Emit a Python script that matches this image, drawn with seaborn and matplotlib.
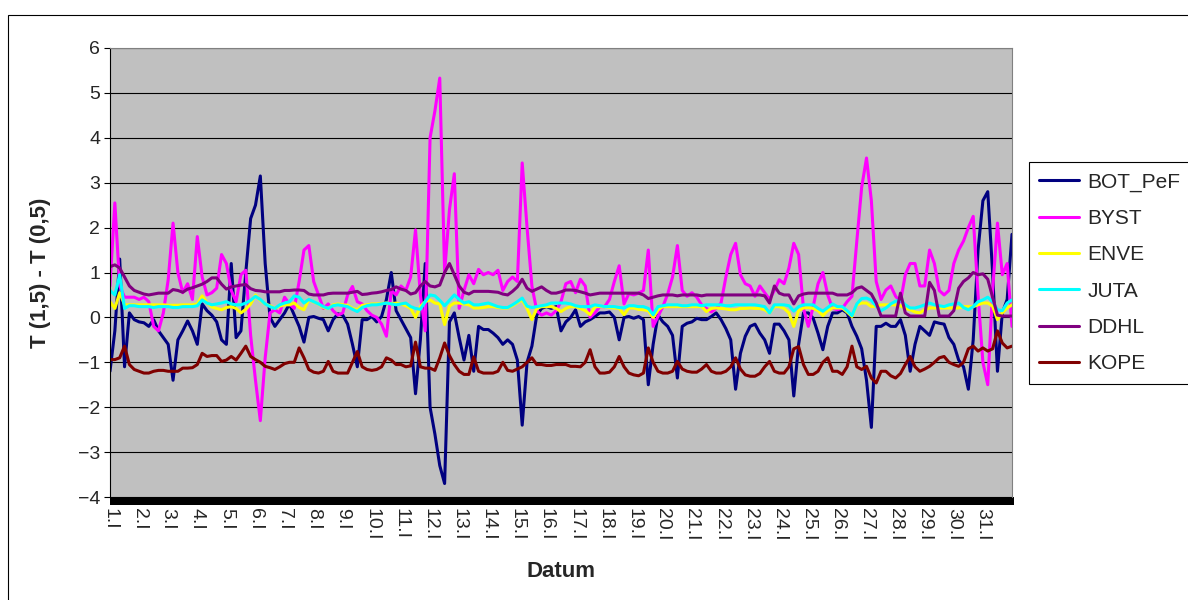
import matplotlib
matplotlib.use("Agg")
import matplotlib.pyplot as plt
from matplotlib.lines import Line2D
from matplotlib.patches import Rectangle
import pandas as pd
import seaborn as sns

# Temperature difference T(1,5) - T(0,5), sampled every 4 hours through January.
# Each row holds one day (00, 04, 08, 12, 16, 20 h); the last value closes 31.I.
step_hours = 4

bot_pef = [
    -1.20, -0.30, 1.30, -1.10, 0.10, -0.05,
    -0.10, -0.12, -0.20, -0.05, -0.30, -0.45,
    -0.60, -1.40, -0.50, -0.30, -0.08, -0.30,
    -0.60, 0.30, 0.15, 0.05, -0.10, -0.50,
    -0.60, 1.20, -0.45, -0.30, 1.00, 2.20,
    2.50, 3.15, 1.20, 0.00, -0.20, -0.05,
    0.10, 0.30, 0.05, -0.20, -0.55, 0.00,
    0.02, -0.02, -0.05, -0.30, -0.05, 0.08,
    0.05, -0.15, -0.60, -1.10, -0.05, -0.05,
    0.02, -0.10, 0.02, 0.40, 1.00, 0.15,
    -0.05, -0.25, -0.45, -1.70, -0.50, 1.20,
    -2.00, -2.60, -3.30, -3.70, -0.10, 0.10,
    -0.45, -0.95, -0.40, -1.20, -0.20, -0.27,
    -0.27, -0.35, -0.45, -0.60, -0.50, -0.60,
    -0.95, -2.40, -1.00, -0.64, 0.05, 0.20,
    0.24, 0.20, 0.24, -0.30, -0.10, 0.00,
    0.17, -0.20, -0.10, -0.05, 0.02, 0.10,
    0.10, 0.12, 0.00, -0.50, 0.00, 0.02,
    -0.02, 0.02, -0.05, -1.50, -0.60, 0.05,
    -0.10, -0.20, -0.40, -1.35, -0.20, -0.13,
    -0.10, -0.02, -0.05, -0.05, 0.02, 0.10,
    -0.05, -0.25, -0.50, -1.60, -0.80, -0.42,
    -0.20, -0.15, -0.35, -0.50, -0.80, -0.15,
    -0.15, -0.30, -0.50, -1.75, -0.60, 0.10,
    0.10, -0.02, -0.35, -0.72, -0.20, 0.10,
    0.10, 0.17, 0.10, -0.20, -0.42, -0.70,
    -1.40, -2.45, -0.20, -0.20, -0.13, -0.20,
    -0.20, -0.05, -0.40, -1.20, -0.60, -0.20,
    -0.30, -0.40, -0.10, -0.13, -0.15, -0.45,
    -0.60, -0.95, -1.10, -1.60, -0.50, 1.50,
    2.60, 2.80, 1.00, -1.20, 0.10, 0.40,
    1.85,
]

byst = [
    0.70, 2.55, 0.70, 0.45, 0.45, 0.45,
    0.40, 0.45, 0.35, -0.20, -0.30, 0.10,
    0.84, 2.10, 1.00, 0.55, 0.75, 0.40,
    1.80, 0.90, 0.50, 0.55, 0.65, 1.40,
    1.20, 0.60, 0.35, 0.95, 1.05, -0.40,
    -1.40, -2.30, -0.90, 0.10, 0.17, 0.10,
    0.45, 0.30, 0.20, 0.80, 1.50, 1.60,
    0.80, 0.50, 0.20, 0.30, 0.15, 0.05,
    0.10, 0.50, 0.69, 0.35, 0.30, 0.15,
    0.05, 0.00, -0.15, -0.42, 0.60, 0.50,
    0.70, 0.60, 0.90, 1.95, 0.50, -0.30,
    4.00, 4.60, 5.33, 1.00, 2.40, 3.20,
    0.20, 0.60, 0.95, 0.75, 1.07, 0.95,
    1.00, 0.95, 1.05, 0.60, 0.80, 0.90,
    0.80, 3.44, 2.00, 0.70, 0.15, 0.05,
    0.10, 0.05, 0.15, 0.35, 0.75, 0.80,
    0.55, 0.85, 0.70, 0.00, 0.10, 0.24,
    0.24, 0.40, 0.80, 1.15, 0.30, 0.53,
    0.50, 0.54, 0.60, 1.50, -0.20, 0.02,
    0.24, 0.52, 0.90, 1.60, 0.60, 0.47,
    0.55, 0.45, 0.28, 0.20, 0.12, 0.20,
    0.32, 0.90, 1.40, 1.65, 0.95, 0.75,
    0.70, 0.47, 0.70, 0.55, 0.40, 0.60,
    0.84, 0.75, 1.10, 1.65, 1.40, 0.20,
    -0.20, 0.24, 0.75, 1.00, 0.50, 0.20,
    0.17, 0.20, 0.35, 0.47, 1.70, 2.90,
    3.55, 2.60, 0.80, 0.40, 0.61, 0.70,
    0.47, 0.35, 0.95, 1.20, 1.20, 0.70,
    0.70, 1.50, 1.20, 0.60, 0.50, 0.60,
    1.20, 1.50, 1.70, 2.00, 2.25, 0.50,
    -1.00, -1.50, 0.60, 2.10, 0.95, 1.20,
    -0.20,
]

enve = [
    0.35, 0.20, 0.55, 0.28, 0.28, 0.28,
    0.28, 0.28, 0.28, 0.28, 0.28, 0.28,
    0.27, 0.27, 0.27, 0.28, 0.28, 0.28,
    0.30, 0.48, 0.33, 0.23, 0.20, 0.17,
    0.22, 0.24, 0.20, 0.10, 0.18, 0.30,
    0.50, 0.38, 0.30, 0.26, 0.20, 0.25,
    0.28, 0.28, 0.32, 0.22, 0.17, 0.40,
    0.34, 0.30, 0.22, 0.20, 0.28, 0.30,
    0.28, 0.27, 0.20, 0.17, 0.27, 0.28,
    0.30, 0.30, 0.31, 0.32, 0.30, 0.32,
    0.30, 0.26, 0.20, 0.00, 0.24, 0.35,
    0.39, 0.32, 0.30, -0.16, 0.25, 0.32,
    0.32, 0.30, 0.28, 0.21, 0.21, 0.22,
    0.24, 0.24, 0.22, 0.21, 0.21, 0.26,
    0.33, 0.39, 0.20, -0.05, 0.20, 0.24,
    0.24, 0.24, 0.20, 0.13, 0.20, 0.24,
    0.24, 0.20, 0.15, 0.06, 0.24, 0.24,
    0.24, 0.22, 0.21, 0.20, 0.06, 0.21,
    0.21, 0.18, 0.17, 0.15, 0.00, 0.17,
    0.24, 0.24, 0.24, 0.24, 0.24, 0.24,
    0.24, 0.24, 0.24, 0.13, 0.20, 0.21,
    0.20, 0.19, 0.17, 0.17, 0.20, 0.20,
    0.21, 0.20, 0.20, 0.17, 0.10, 0.24,
    0.24, 0.20, 0.10, -0.20, 0.15, 0.21,
    0.22, 0.20, 0.15, 0.04, 0.15, 0.21,
    0.21, 0.21, 0.12, 0.02, 0.28, 0.32,
    0.32, 0.24, 0.25, 0.28, 0.28, 0.28,
    0.28, 0.26, 0.20, 0.17, 0.12, 0.10,
    0.17, 0.21, 0.21, 0.21, 0.21, 0.21,
    0.21, 0.21, 0.24, 0.24, 0.24, 0.28,
    0.32, 0.32, 0.25, -0.05, 0.10, 0.21,
    0.28,
]

juta = [
    0.60, 0.50, 0.95, 0.20, 0.26, 0.26,
    0.24, 0.24, 0.24, 0.22, 0.24, 0.24,
    0.24, 0.22, 0.22, 0.24, 0.24, 0.24,
    0.26, 0.39, 0.32, 0.28, 0.30, 0.32,
    0.35, 0.30, 0.28, 0.28, 0.32, 0.38,
    0.47, 0.40, 0.30, 0.24, 0.20, 0.28,
    0.32, 0.35, 0.48, 0.45, 0.32, 0.40,
    0.35, 0.30, 0.24, 0.20, 0.26, 0.28,
    0.26, 0.24, 0.18, 0.13, 0.22, 0.26,
    0.28, 0.28, 0.30, 0.32, 0.30, 0.28,
    0.30, 0.32, 0.24, 0.20, 0.18, 0.35,
    0.50, 0.48, 0.38, 0.26, 0.38, 0.50,
    0.40, 0.32, 0.35, 0.28, 0.28, 0.30,
    0.32, 0.28, 0.24, 0.22, 0.22, 0.28,
    0.35, 0.43, 0.25, 0.22, 0.24, 0.26,
    0.28, 0.32, 0.32, 0.32, 0.32, 0.30,
    0.26, 0.24, 0.24, 0.24, 0.28, 0.26,
    0.24, 0.24, 0.24, 0.22, 0.21, 0.26,
    0.26, 0.24, 0.24, 0.20, 0.06, 0.24,
    0.26, 0.28, 0.28, 0.28, 0.26, 0.26,
    0.28, 0.28, 0.26, 0.28, 0.28, 0.28,
    0.28, 0.26, 0.26, 0.28, 0.28, 0.28,
    0.28, 0.28, 0.26, 0.24, 0.10, 0.28,
    0.28, 0.28, 0.26, 0.14, 0.24, 0.28,
    0.28, 0.28, 0.20, 0.14, 0.22, 0.30,
    0.24, 0.24, 0.15, 0.04, 0.30, 0.42,
    0.43, 0.38, 0.25, 0.15, 0.21, 0.30,
    0.36, 0.39, 0.28, 0.21, 0.21, 0.24,
    0.28, 0.32, 0.28, 0.26, 0.24, 0.28,
    0.30, 0.32, 0.22, 0.17, 0.24, 0.35,
    0.39, 0.45, 0.35, 0.17, 0.15, 0.32,
    0.39,
]

ddhl = [
    1.13, 1.17, 1.10, 0.90, 0.70, 0.60,
    0.56, 0.52, 0.50, 0.52, 0.54, 0.54,
    0.54, 0.62, 0.60, 0.56, 0.63, 0.66,
    0.70, 0.74, 0.80, 0.88, 0.88, 0.74,
    0.63, 0.68, 0.70, 0.72, 0.73, 0.64,
    0.60, 0.59, 0.57, 0.57, 0.57, 0.57,
    0.60, 0.60, 0.61, 0.61, 0.60, 0.52,
    0.50, 0.50, 0.50, 0.53, 0.54, 0.54,
    0.54, 0.54, 0.56, 0.58, 0.51, 0.52,
    0.54, 0.55, 0.57, 0.60, 0.62, 0.68,
    0.63, 0.60, 0.52, 0.55, 0.70, 0.80,
    0.70, 0.68, 0.72, 1.00, 1.20, 0.95,
    0.70, 0.56, 0.52, 0.58, 0.58, 0.58,
    0.58, 0.57, 0.56, 0.52, 0.50, 0.58,
    0.68, 0.85, 0.65, 0.58, 0.63, 0.68,
    0.60, 0.54, 0.54, 0.57, 0.61, 0.61,
    0.60, 0.57, 0.54, 0.50, 0.52, 0.54,
    0.54, 0.54, 0.54, 0.54, 0.54, 0.54,
    0.54, 0.54, 0.50, 0.42, 0.45, 0.48,
    0.50, 0.50, 0.50, 0.48, 0.50, 0.50,
    0.50, 0.50, 0.48, 0.50, 0.50, 0.50,
    0.50, 0.50, 0.50, 0.50, 0.50, 0.50,
    0.50, 0.50, 0.50, 0.48, 0.32, 0.70,
    0.54, 0.50, 0.50, 0.30, 0.48, 0.52,
    0.54, 0.54, 0.54, 0.54, 0.54, 0.54,
    0.50, 0.50, 0.50, 0.55, 0.65, 0.68,
    0.60, 0.52, 0.32, 0.03, 0.03, 0.03,
    0.03, 0.54, 0.10, 0.03, 0.03, 0.03,
    0.03, 0.78, 0.60, 0.03, 0.03, 0.03,
    0.15, 0.65, 0.80, 0.88, 1.00, 0.95,
    0.97, 0.85, 0.45, 0.05, 0.03, 0.03,
    0.03,
]

kope = [
    -0.94, -0.94, -0.90, -0.64, -1.05, -1.16,
    -1.20, -1.24, -1.24, -1.20, -1.18, -1.18,
    -1.20, -1.20, -1.20, -1.13, -1.13, -1.12,
    -1.05, -0.80, -0.87, -0.85, -0.85, -0.98,
    -0.95, -0.87, -0.95, -0.80, -0.64, -0.87,
    -0.94, -1.00, -1.09, -1.12, -1.16, -1.10,
    -1.03, -1.00, -1.00, -0.68, -0.90, -1.16,
    -1.22, -1.24, -1.20, -0.98, -1.20, -1.24,
    -1.24, -1.24, -1.00, -0.76, -1.10, -1.16,
    -1.18, -1.16, -1.10, -0.90, -0.95, -1.05,
    -1.05, -1.10, -1.08, -0.55, -1.10, -1.13,
    -1.13, -1.18, -0.90, -0.57, -0.85, -1.05,
    -1.20, -1.27, -1.27, -0.88, -1.20, -1.24,
    -1.24, -1.24, -1.20, -1.00, -1.18, -1.20,
    -1.15, -1.10, -1.00, -0.90, -1.05, -1.05,
    -1.07, -1.07, -1.05, -1.05, -1.05, -1.09,
    -1.09, -1.10, -1.00, -0.72, -1.10, -1.24,
    -1.24, -1.22, -1.10, -0.87, -1.10, -1.24,
    -1.28, -1.30, -1.24, -0.68, -1.00, -1.20,
    -1.24, -1.24, -1.20, -0.98, -1.15, -1.20,
    -1.22, -1.22, -1.15, -1.05, -1.20, -1.24,
    -1.24, -1.20, -1.10, -0.90, -1.15, -1.28,
    -1.31, -1.31, -1.25, -1.10, -0.98, -1.20,
    -1.24, -1.24, -1.10, -0.70, -0.65, -1.05,
    -1.27, -1.27, -1.20, -1.00, -0.90, -1.20,
    -1.20, -1.27, -1.10, -0.64, -1.10, -1.16,
    -1.09, -1.35, -1.46, -1.20, -1.20, -1.30,
    -1.35, -1.25, -1.05, -0.87, -1.10, -1.20,
    -1.15, -1.09, -1.00, -0.90, -0.87, -1.00,
    -1.05, -1.09, -1.00, -0.70, -0.64, -0.75,
    -0.68, -0.75, -0.70, -0.30, -0.57, -0.68,
    -0.64,
]

stations = ["BOT_PeF", "BYST", "ENVE", "JUTA", "DDHL", "KOPE"]
station_values = [bot_pef, byst, enve, juta, ddhl, kope]
station_colors = ["#000080", "#FF00FF", "#FFFF00", "#00FFFF", "#800080", "#800000"]
day_labels = [f"{d}.I" for d in range(1, 32)]

# Long-form table for seaborn
frames = []
for name, vals in zip(stations, station_values):
    frames.append(pd.DataFrame({
        "hour": [i * step_hours for i in range(len(vals))],
        "value": vals,
        "station": name,
    }))
df = pd.concat(frames, ignore_index=True)

sns.set_style("white")
plt.rcParams["font.family"] = ["Liberation Sans", "DejaVu Sans"]

W, H = 1188, 600
fig = plt.figure(figsize=(W / 100, H / 100), dpi=100)
fig.patch.set_facecolor("white")

left, right, top, bottom = 110, 1012, 48, 497
ax = fig.add_axes([left / W, 1 - bottom / H, (right - left) / W, (bottom - top) / H])
ax.set_facecolor("#C0C0C0")

palette = dict(zip(stations, station_colors))
sns.lineplot(data=df, x="hour", y="value", hue="station", hue_order=stations,
             palette=palette, estimator=None, sort=False, linewidth=2.2,
             legend=False, ax=ax)

n_hours = 24 * 31
ax.set_xlim(0, n_hours)
ax.set_ylim(-4, 6)
ax.set_yticks(range(-4, 7))
ax.set_xticks([24 * i for i in range(31)])
ax.set_xticklabels(day_labels, rotation=-90)

ax.set_axisbelow(True)
ax.yaxis.grid(True, color="black", linewidth=0.8)
ax.xaxis.grid(False)

for side in ("top", "right"):
    ax.spines[side].set_color("#808080")
    ax.spines[side].set_linewidth(0.8)
ax.spines["left"].set_color("black")
ax.spines["left"].set_linewidth(0.8)
ax.spines["bottom"].set_visible(False)

ax.tick_params(axis="y", direction="out", length=4, width=0.8, color="black",
               labelsize=14, pad=3, left=True)
ax.tick_params(axis="x", length=0, labelsize=14, pad=8, bottom=True)

# Dense hourly category ticks render as a solid band under the plot area
bar_h = 8 / (bottom - top)
ax.add_patch(Rectangle((0, -bar_h), 1 + 2 / (right - left), bar_h,
                       transform=ax.transAxes, clip_on=False,
                       facecolor="black", edgecolor="none"))

ax.set_xlabel("Datum", fontsize=16, fontweight="bold")
ax.xaxis.set_label_coords(0.5, (bottom - 561) / (bottom - top))
ax.set_ylabel("T (1,5) - T (0,5)", fontsize=16, fontweight="bold")
ax.yaxis.set_label_coords((51 - left) / (right - left), 0.5)

handles = [Line2D([], [], color=c, linewidth=2.2) for c in station_colors]
leg = fig.legend(handles, stations, loc="upper left",
                 bbox_to_anchor=(1029 / W, 1 - 162 / H),
                 bbox_transform=fig.transFigure, frameon=True, fancybox=False,
                 edgecolor="black", framealpha=1, fontsize=15,
                 handlelength=1.9, handletextpad=0.4, labelspacing=0.83,
                 borderpad=0.5, borderaxespad=0)
leg.get_frame().set_linewidth(0.8)

# Chart-area border
fig.add_artist(Rectangle((8 / W, -0.05), 1.0, 1 - 15 / H + 0.05,
                         transform=fig.transFigure, fill=False,
                         edgecolor="black", linewidth=0.8))

fig.savefig("out.png", dpi=100)
